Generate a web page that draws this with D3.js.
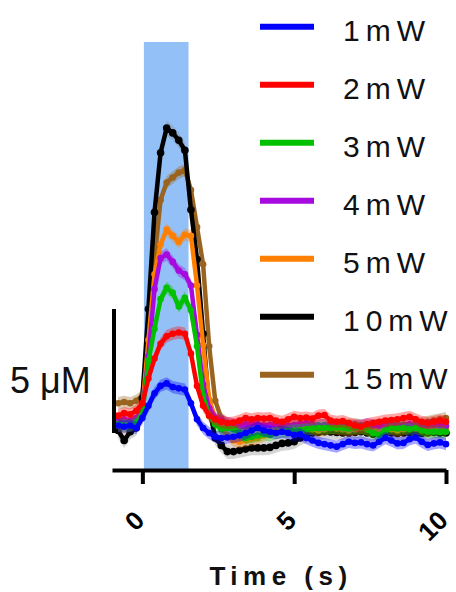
<!DOCTYPE html>
<html><head><meta charset="utf-8">
<script src="https://cdn.jsdelivr.net/npm/d3@7"></script>
<style>
html,body{margin:0;padding:0;background:#fff;}
svg{display:block;font-family:"Liberation Sans",Arial,sans-serif;}
</style></head>
<body><svg id="chart" width="456" height="592"></svg>
<script>
// ---- data ----
const times = [-0.8,-0.6,-0.4,-0.2,0,0.2,0.4,0.6,0.8,1,1.2,1.4,1.6,1.8,2,2.2,2.4,2.6,2.8,3,3.2,3.4,3.6,3.8,4,4.2,4.4,4.6,4.8,5,5.2,5.4,5.6,5.8,6,6.2,6.4,6.6,6.8,7,7.2,7.4,7.6,7.8,8,8.2,8.4,8.6,8.8,9,9.2,9.4,9.6,9.8,10];
const seriesNames = ["1mW","2mW","3mW","4mW","5mW","10mW","15mW"];
const seriesColors = ["#0000ff","#ff0000","#00c000","#a60ade","#ff8000","#000000","#9a6420"];
const v1mW = [0.3,0.25,0.3,0.2, 0.6,1.1,1.6,1.9,2.0,1.85,1.8,1.75,1.2,0.55,0.2, 0.0,-0.15, -0.2,-0.18,-0.15,-0.1,0.0,0.1,0.2,0.1,0.05,0.0, 0.05,0.0,-0.08,-0.05,-0.2,-0.3,-0.4,-0.45,-0.5,-0.55, -0.45,-0.35,-0.4,-0.38,-0.45,-0.5,-0.35,-0.2,-0.3,-0.42, -0.4,-0.25,-0.18,-0.35,-0.48,-0.42,-0.38,-0.45];
const v2mW = [0.7,0.8,0.75,0.9, 1.2,2.2,3.0,3.6,3.9,4.0,4.05,4.0,3.2,1.9,1.1, 0.7,0.55, 0.45,0.4,0.42,0.5,0.6,0.55,0.6,0.58,0.6,0.5, 0.45,0.55,0.65,0.6,0.62,0.58,0.7,0.72,0.5,0.45, 0.48,0.4,0.3,0.25,0.35,0.4,0.45,0.5,0.52,0.55, 0.6,0.65,0.55,0.45,0.4,0.45,0.5,0.45];
const v3mW = [0.35,0.3,0.3,0.4, 0.8,2.9,4.2,5.4,5.85,5.65,5.1,5.45,4.95,3.5,1.5, 0.7,0.35, 0.15,0.2,0.15,0.0,-0.2,-0.15,-0.1,-0.05,-0.08,0.0, 0.05,0.08,0.1,0.12,0.15,0.18,0.2,0.2,0.2,0.22, 0.2,0.18,0.2,0.2,0.15,0.0,-0.08,0.1,0.2,0.18, 0.2,0.15,0.2,0.1,0.05,0.05,0.04,0.05];
const v4mW = [0.5,0.55,0.5,0.6, 0.9,3.1,5.8,7.05,7.2,6.9,6.55,6.4,5.95,3.95,1.95, 1.0,0.6, 0.5,0.4,0.35,0.3,0.35,0.4,0.35,0.3,0.32,0.35, 0.3,0.28,0.3,0.35,0.4,0.35,0.3,0.3,0.32,0.35, 0.3,0.25,0.28,0.3,0.35,0.3,0.28,0.3,0.35,0.3, 0.32,0.35,0.3,0.28,0.3,0.32,0.3,0.28];
const v5mW = [0.3,0.25,0.3,0.35, 1.0,3.75,6.4,7.6,8.2,7.95,7.7,8.0,7.95,5.95,3.55, 1.35,0.6, 0.2,-0.1,-0.3,-0.35,-0.3,-0.25,-0.2,-0.1,0.0,0.1, 0.2,0.15,0.1,0.15,0.2,0.15,0.1,0.15,0.2,0.18, 0.15,0.1,0.15,0.2,0.15,0.1,0.15,0.2,0.15,0.1, 0.15,0.2,0.18,0.15,0.1,0.15,0.2,0.15];
const v10mW = [0.1,-0.3,0.05,0.2, 1.4,5.0,8.9,11.3,12.3,12.1,11.8,11.4,9.0,7.0,4.0, 1.0,-0.2, -0.5,-0.75,-0.75,-0.7,-0.65,-0.6,-0.6,-0.6,-0.58,-0.5, -0.42,-0.4,-0.35,-0.2,-0.1,0.0,0.02,0.05,0.04,0.02, 0.0,0.0,0.02,0.05,0.0,-0.05,0.0,0.02,0.0,-0.02, 0.0,0.02,0.0,-0.02,0.0,0.02,0.0,0.0];
const v15mW = [1.2,1.25,1.2,1.3, 1.5,4.0,7.0,9.4,10.1,10.3,10.5,10.6,9.8,8.3,6.8, 3.5,1.3, 0.6,0.4,0.3,0.25,0.25,0.3,0.28,0.3,0.32,0.3, 0.28,0.3,0.32,0.35,0.3,0.28,0.3,0.32,0.35,0.3, 0.3,0.32,0.35,0.3,0.28,0.3,0.32,0.35,0.38,0.35, 0.3,0.32,0.35,0.4,0.45,0.5,0.55,0.6];
const seriesValues = [v1mW,v2mW,v3mW,v4mW,v5mW,v10mW,v15mW];
const seriesSD = [0.25,0.25,0.25,0.25,0.25,0.3,0.25];
const stimulus = [0.05, 1.52];      // light pulse, s
const xTicks = [0, 5, 10];
const scaleBar = [0, 5];            // µM
const scaleBarLabel = "5 μM";
const xTitle = "Time (s)";

// ---- drawing ----
const svg = d3.select("#chart");
const x = d3.scaleLinear().domain([-1, 10]).range([112, 446]);
const y = d3.scaleLinear().domain([0, 5]).range([433, 309]);
const axisY = 470, plotTop = 42;

svg.append("rect")
  .attr("x", x(stimulus[0])).attr("width", x(stimulus[1]) - x(stimulus[0]))
  .attr("y", plotTop).attr("height", axisY - plotTop)
  .attr("fill", "#93c0f6");

const line = d3.line().x((d,i) => x(times[i])).y(d => y(d));
const area = (sd) => d3.area().x((d,i) => x(times[i])).y0(d => y(d - sd)).y1(d => y(d + sd));

for (let s = seriesValues.length - 1; s >= 0; s--) {
  const vals = seriesValues[s], col = seriesColors[s];
  const g = svg.append("g");
  g.append("path").datum(vals).attr("d", area(seriesSD[s]))
    .attr("fill", s === 5 ? "#888" : col).attr("fill-opacity", 0.35);
  g.append("path").datum(vals).attr("d", line)
    .attr("fill", "none").attr("stroke", col).attr("stroke-width", 4.5)
    .attr("stroke-linejoin", "round").attr("stroke-linecap", "round");
  g.selectAll("circle").data(vals).join("circle")
    .attr("cx", (d,i) => x(times[i])).attr("cy", d => y(d))
    .attr("r", s === 5 ? 3.8 : 3.3).attr("fill", col);
}

// x axis
const xAxis = svg.append("g").attr("transform", `translate(0,${axisY})`)
  .call(d3.axisBottom(x).tickValues(xTicks).tickSize(14).tickSizeOuter(0));
xAxis.select(".domain").attr("stroke", "#000").attr("stroke-width", 4);
xAxis.selectAll(".tick line").attr("stroke", "#000").attr("stroke-width", 4);
xAxis.selectAll(".tick text")
  .attr("x", 0).attr("y", 0).attr("dy", 0)
  .attr("transform", "translate(3,52) rotate(-45)")
  .attr("text-anchor", "end")
  .attr("font-family", "Liberation Sans, Arial, sans-serif")
  .attr("font-size", 26).attr("font-weight", "bold").attr("fill", "#000");

// scale bar (y)
svg.append("line")
  .attr("x1", 114).attr("x2", 114)
  .attr("y1", y(scaleBar[0])).attr("y2", y(scaleBar[1]))
  .attr("stroke", "#000").attr("stroke-width", 4);
svg.append("text").attr("x", 10).attr("y", 393)
  .attr("font-size", 36).attr("fill", "#111").text(scaleBarLabel);

// x title
svg.append("text").attr("x", 281).attr("y", 585)
  .attr("text-anchor", "middle").attr("font-size", 26).attr("font-weight", "bold")
  .attr("letter-spacing", 5.5).attr("fill", "#111").text(xTitle);

// legend
const leg = svg.append("g");
seriesNames.forEach((n, i) => {
  const ly = 26.7 + 58 * i;
  leg.append("line").attr("x1", 260).attr("x2", 314).attr("y1", ly).attr("y2", ly)
    .attr("stroke", seriesColors[i]).attr("stroke-width", 6);
  leg.append("text").attr("x", 343).attr("y", ly + 14)
    .attr("font-size", 30).attr("letter-spacing", 6).attr("fill", "#111").text(n);
});
</script></body></html>
